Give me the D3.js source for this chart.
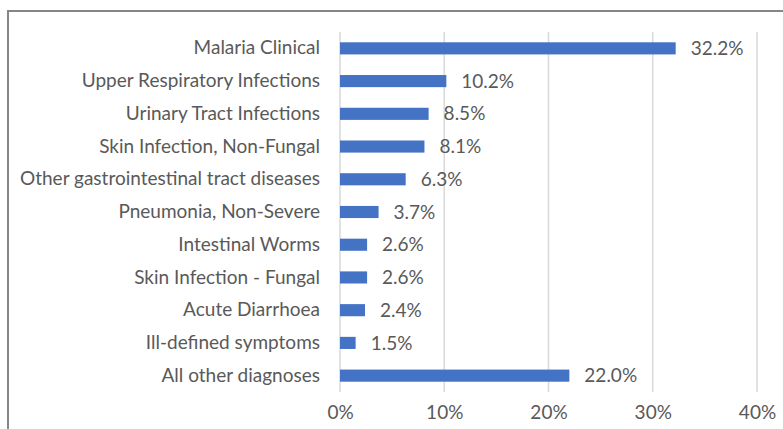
<!DOCTYPE html>
<html>
<head>
<meta charset="utf-8">
<script src="https://cdn.jsdelivr.net/npm/d3@7"></script>
<style>
  body { margin: 0; background: #fff; }
  svg text { font-family: Lato, "Open Sans", sans-serif; fill: #595959; }
</style>
</head>
<body>
<script>
// diagnoses, top to bottom
var categories = [
	'Malaria Clinical',
	'Upper Respiratory Infections',
	'Urinary Tract Infections',
	'Skin Infection, Non-Fungal',
	'Other gastrointestinal tract diseases',
	'Pneumonia, Non-Severe',
	'Intestinal Worms',
	'Skin Infection - Fungal',
	'Acute Diarrhoea',
	'Ill-defined symptoms',
	'All other diagnoses'
];
var values = [32.2, 10.2, 8.5, 8.1, 6.3, 3.7, 2.6, 2.6, 2.4, 1.5, 22.0];
var tickValues = [0, 10, 20, 30, 40];

var W = 783, H = 429;
var fontSize = '19px';

var svg = d3.select('body').append('svg')
	.attr('width', W)
	.attr('height', H);

// chart frame (right and bottom fall outside the picture)
svg.append('rect')
	.attr('x', 8).attr('y', 11)
	.attr('width', W + 10).attr('height', H + 10)
	.attr('fill', 'none')
	.attr('stroke', '#868686')
	.attr('stroke-width', 2);

var x = d3.scaleLinear()
	.domain([0, 40])
	.range([340, 757]);

var y = d3.scaleBand()
	.domain(categories)
	.range([32, 392])
	.paddingInner(0.63)
	.paddingOuter(0.315);

// gridlines
svg.append('g')
	.selectAll('line')
	.data(tickValues)
	.enter().append('line')
	.attr('x1', function(d) { return x(d); })
	.attr('x2', function(d) { return x(d); })
	.attr('y1', 32)
	.attr('y2', 392)
	.attr('stroke', '#d9d9d9')
	.attr('stroke-width', 1.5);

// tick labels
var xAxis = svg.append('g')
	.attr('transform', 'translate(0,' + 392 + ')')
	.call(d3.axisBottom(x).tickValues(tickValues).tickSize(0).tickPadding(14)
		.tickFormat(function(d) { return d + '%'; }));
xAxis.select('.domain').remove();
xAxis.selectAll('text')
	.attr('fill', '#595959')
	.style('font-size', fontSize);

// category labels
var yAxis = svg.append('g')
	.attr('transform', 'translate(340,0)')
	.call(d3.axisLeft(y).tickSize(0).tickPadding(20));
yAxis.select('.domain').remove();
yAxis.selectAll('text')
	.attr('fill', '#595959')
	.style('font-size', fontSize);

// bars
svg.append('g')
	.selectAll('rect')
	.data(values)
	.enter().append('rect')
	.attr('x', x(0))
	.attr('y', function(d, i) { return y(categories[i]); })
	.attr('width', function(d) { return x(d) - x(0); })
	.attr('height', y.bandwidth())
	.attr('fill', '#4472c4');

// value labels
svg.append('g')
	.selectAll('text')
	.data(values)
	.enter().append('text')
	.attr('x', function(d) { return x(d) + 15; })
	.attr('y', function(d, i) { return y(categories[i]) + y.bandwidth() / 2; })
	.attr('dy', '.35em')
	.style('font-size', fontSize)
	.text(function(d) { return d.toFixed(1) + '%'; });
</script>
</body>
</html>
